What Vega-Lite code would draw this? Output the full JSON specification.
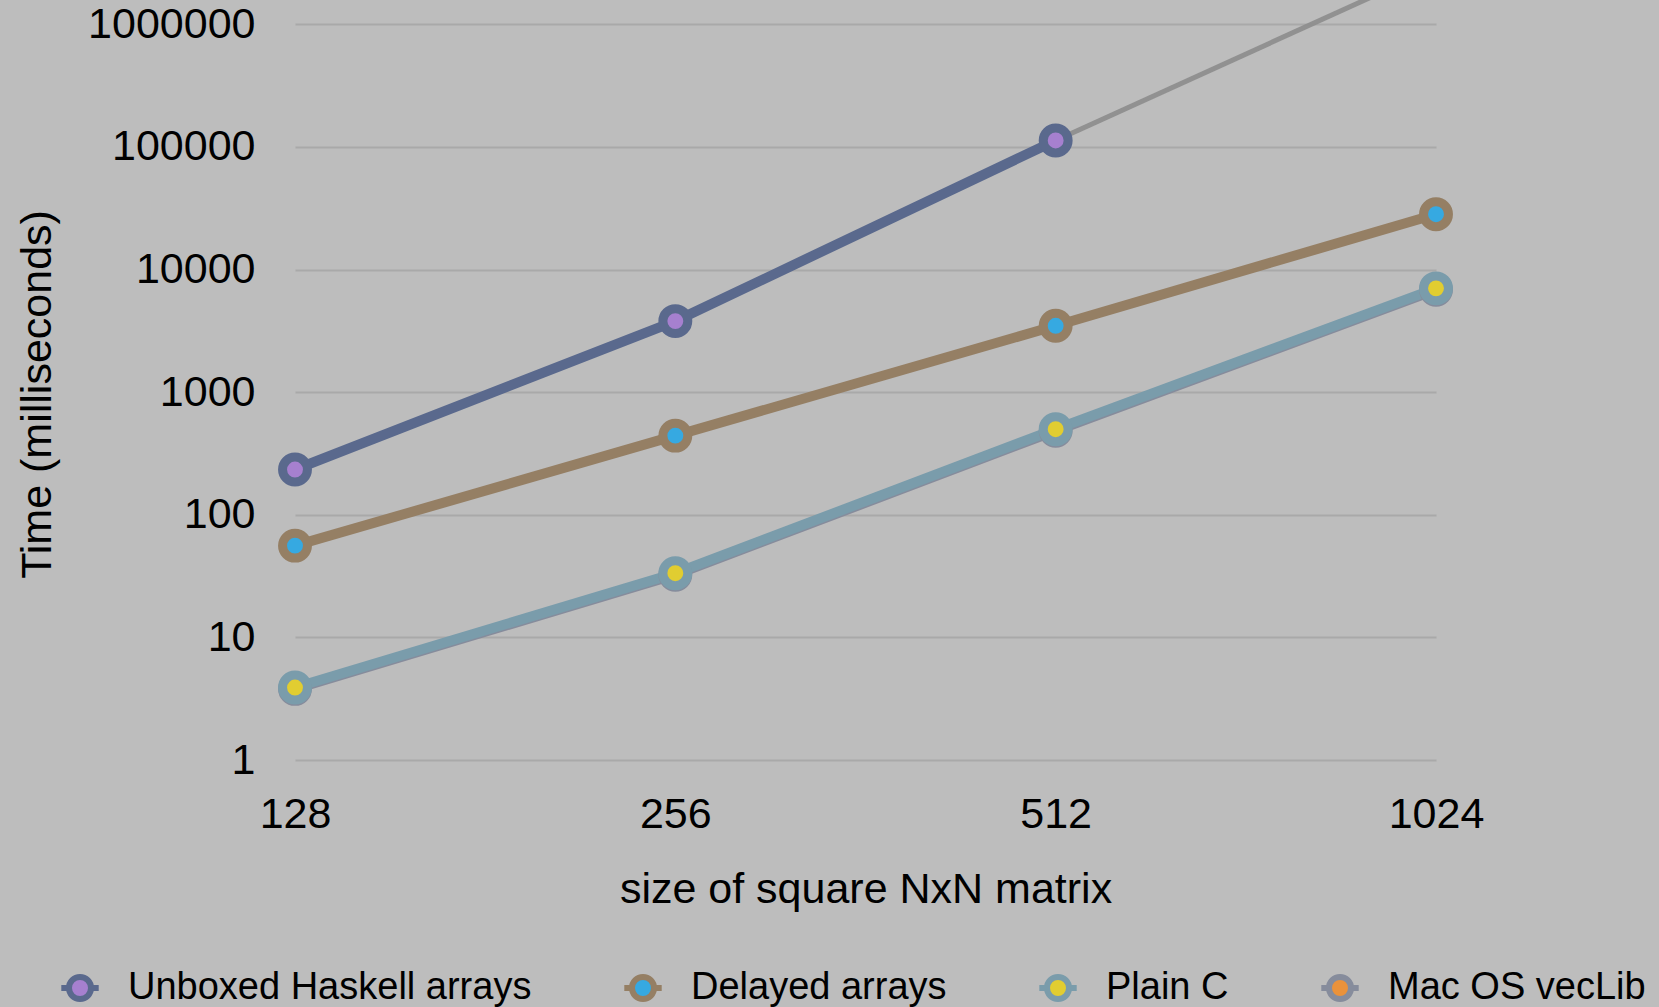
{
  "$schema": "https://vega.github.io/schema/vega-lite/v6.json",
  "width": 1141,
  "height": 760,
  "autosize": {"type": "none"},
  "padding": {"left": 295, "top": 0, "right": 223, "bottom": 247},
  "background": "#bdbdbd",
  "config": {
    "view": {"stroke": null},
    "font": "Liberation Sans",
    "axis": {
      "domain": false,
      "ticks": false,
      "labelFont": "Liberation Sans",
      "titleFont": "Liberation Sans",
      "labelFontSize": 43,
      "titleFontSize": 43,
      "labelColor": "#000000",
      "titleColor": "#000000",
      "titleFontWeight": "normal",
      "gridColor": "#a9a9a9",
      "gridWidth": 2,
      "gridOpacity": 1
    },
    "legend": {
      "orient": "none",
      "direction": "horizontal",
      "legendX": -234,
      "legendY": 969,
      "labelFont": "Liberation Sans",
      "labelFontSize": 38,
      "labelColor": "#000000",
      "labelLimit": 0,
      "symbolType": "M-1,0 A1,1 0 1,1 1,0 A1,1 0 1,1 -1,0 Z M-1.7,0 L-1,0 M1,0 L1.7,0",
      "symbolSize": 484,
      "symbolStrokeWidth": 6,
      "symbolOpacity": 1,
      "labelOffset": 29,
      "columnPadding": 80,
      "title": null
    }
  },
  "datasets": {
    "main": [
      {"series": "Unboxed Haskell arrays", "N": 128, "time": 234},
      {"series": "Unboxed Haskell arrays", "N": 256, "time": 3800},
      {"series": "Unboxed Haskell arrays", "N": 512, "time": 113000},
      {"series": "Delayed arrays", "N": 128, "time": 56},
      {"series": "Delayed arrays", "N": 256, "time": 442},
      {"series": "Delayed arrays", "N": 512, "time": 3480},
      {"series": "Delayed arrays", "N": 1024, "time": 28300},
      {"series": "Mac OS vecLib", "N": 128, "time": 3.8},
      {"series": "Mac OS vecLib", "N": 256, "time": 32.4},
      {"series": "Mac OS vecLib", "N": 512, "time": 485},
      {"series": "Mac OS vecLib", "N": 1024, "time": 6830},
      {"series": "Plain C", "N": 128, "time": 3.9},
      {"series": "Plain C", "N": 256, "time": 33.4},
      {"series": "Plain C", "N": 512, "time": 499},
      {"series": "Plain C", "N": 1024, "time": 7030}
    ],
    "proj": [
      {"N": 512, "time": 113000},
      {"N": 1024, "time": 2900000}
    ]
  },
  "layer": [
    {
      "data": {"name": "proj"},
      "mark": {"type": "line", "color": "#8e8e8e", "strokeWidth": 5, "clip": true, "opacity": 0.95},
      "encoding": {
        "x": {"field": "N", "type": "ordinal"},
        "y": {"field": "time", "type": "quantitative"}
      }
    },
    {
      "data": {"name": "main"},
      "transform": [{"filter": "datum.series === 'Mac OS vecLib'"}],
      "mark": {"type": "line", "strokeWidth": 10},
      "encoding": {
        "x": {"field": "N", "type": "ordinal"},
        "y": {"field": "time", "type": "quantitative"},
        "stroke": {"field": "series", "type": "nominal"}
      }
    },
    {
      "data": {"name": "main"},
      "transform": [{"filter": "datum.series !== 'Mac OS vecLib'"}],
      "mark": {"type": "line", "strokeWidth": 10},
      "encoding": {
        "x": {"field": "N", "type": "ordinal"},
        "y": {"field": "time", "type": "quantitative"},
        "stroke": {"field": "series", "type": "nominal"}
      }
    },
    {
      "data": {"name": "main"},
      "mark": {"type": "point", "filled": true, "size": 620, "strokeWidth": 9, "opacity": 1},
      "encoding": {
        "x": {
          "field": "N", "type": "ordinal",
          "scale": {"type": "point", "domain": [128, 256, 512, 1024], "padding": 0},
          "axis": {"labelAngle": 0, "labelAlign": "center", "grid": false, "labelPadding": 54, "title": "size of square NxN matrix", "titlePadding": 32}
        },
        "y": {
          "field": "time", "type": "quantitative",
          "scale": {"type": "log", "domain": [1, 1580000], "nice": false},
          "axis": {"values": [1, 10, 100, 1000, 10000, 100000, 1000000], "format": "d", "labelPadding": 40, "title": "Time (milliseconds)", "titlePadding": 36, "titleY": 394, "grid": true}
        },
        "stroke": {
          "field": "series", "type": "nominal",
          "scale": {
            "domain": ["Unboxed Haskell arrays", "Delayed arrays", "Plain C", "Mac OS vecLib"],
            "range": ["#5a698d", "#957f64", "#7a9cab", "#868c9c"]
          }
        },
        "fill": {
          "field": "series", "type": "nominal",
          "scale": {
            "domain": ["Unboxed Haskell arrays", "Delayed arrays", "Plain C", "Mac OS vecLib"],
            "range": ["#a680cf", "#36a9e1", "#e1cd31", "#ea923b"]
          }
        },
        "order": {"field": "series", "sort": "ascending"}
      }
    }
  ]
}
